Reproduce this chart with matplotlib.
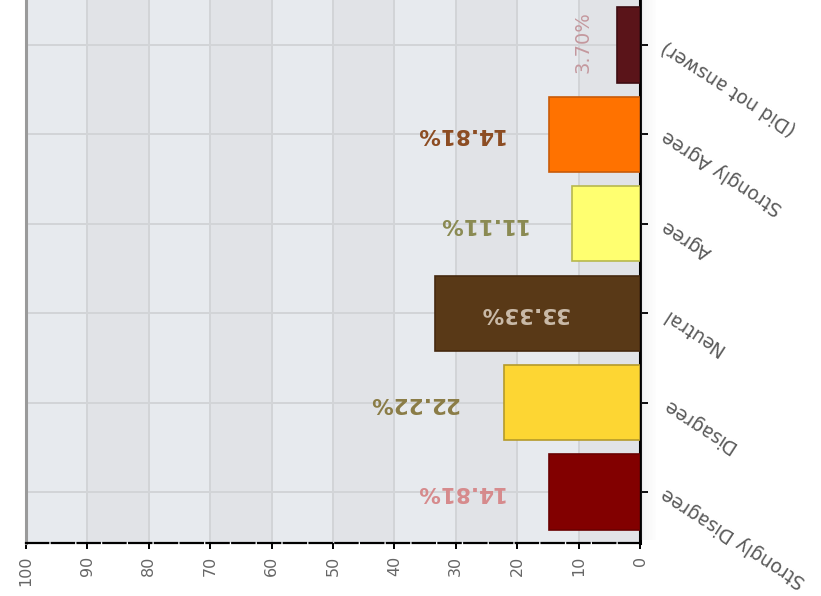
import matplotlib
matplotlib.use("Agg")
import matplotlib.pyplot as plt
import numpy as np
from matplotlib.patches import Rectangle

# Survey responses (percent of respondents)
categories = ["Strongly Disagree", "Disagree", "Neutral", "Agree",
              "Strongly Agree", "(Did not answer)"]
percentages = [14.81, 22.22, 33.33, 11.11, 14.81, 3.70]
bar_colors = ["#820000", "#fdd633", "#593917", "#ffff70", "#ff7200", "#5a1419"]
edge_colors = ["#6a0000", "#b59a2a", "#45290f", "#b8b84e", "#c85a08", "#3e0d12"]
label_colors = ["#d68a8c", "#8a7c46", "#cabba9", "#8a8a52", "#8c4c22", "#c4989e"]
x_ticks = [0, 10, 20, 30, 40, 50, 60, 70, 80, 90, 100]

W, H = 821, 596
fig = plt.figure(figsize=(W / 100, H / 100), dpi=100)
fig.patch.set_facecolor("white")

# axes box in pixels: x 26..640, y (from top) 0..543
left, right, top, bottom = 26, 640, 0, 543
ax = fig.add_axes([left / W, (H - bottom) / H, (right - left) / W, (bottom - top) / H])
ax.set_facecolor("#e7eaee")

ypos = np.arange(len(categories))
ax.set_xlim(100, 0)
ax.set_ylim(-0.57, 5.503)

# alternating column bands
for i, x0 in enumerate(range(0, 100, 10)):
    if i % 2 == 0:
        ax.axvspan(x0, x0 + 10, color="#e1e3e7", zorder=0, lw=0)

ax.set_xticks(x_ticks)
ax.set_yticks(ypos)
ax.grid(True, color="#d2d4d7", lw=1.4, zorder=1)
ax.set_axisbelow(True)

ax.barh(ypos, percentages, height=0.84, color=bar_colors,
        edgecolor=edge_colors, linewidth=1.2, zorder=3)

# value labels (the whole chart is drawn upside down)
for y, v, c in zip(ypos, percentages, label_colors):
    if v < 5:
        ax.annotate(f"{v:.2f}%", xy=(v, y), xytext=(-34, 3),
                    textcoords="offset pixels", rotation=90,
                    ha="center", va="center", color=c, fontsize=14,
                    zorder=4)
    elif v > 30:
        ax.annotate(f"{v:.2f}%", xy=(v, y), xytext=(89, 0),
                    textcoords="offset pixels", rotation=180,
                    ha="center", va="center", color=c, fontsize=15.5,
                    fontweight="bold", zorder=4)
    else:
        ax.annotate(f"{v:.2f}%", xy=(v, y), xytext=(-90, 0),
                    textcoords="offset pixels", rotation=180,
                    ha="center", va="center", color=c, fontsize=15.5,
                    fontweight="bold", zorder=4)

# spines
ax.spines["top"].set_visible(False)
ax.spines["left"].set_color("#9a9a9a")
ax.spines["left"].set_linewidth(2.2)
ax.spines["right"].set_color("black")
ax.spines["right"].set_linewidth(2.2)
ax.spines["bottom"].set_color("black")
ax.spines["bottom"].set_linewidth(1.6)
ax.spines["bottom"].set_linestyle((0, (10, 1.6)))

# category axis on the right
ax.yaxis.tick_right()
ax.tick_params(axis="y", which="major", length=6, width=1.4, color="black",
               pad=11, labelsize=13.5, labelcolor="#5a5a5a")
ax.set_yticklabels(categories)
for lab in ax.get_yticklabels():
    lab.set_rotation(147)
    lab.set_rotation_mode("anchor")
    lab.set_ha("right")
    lab.set_va("center")

# value axis at the bottom
ax.tick_params(axis="x", which="major", length=4, width=1.4, color="black",
               pad=5, labelsize=11.5, labelcolor="#666666")
ax.set_xticklabels([str(t) for t in x_ticks])
for lab in ax.get_xticklabels():
    lab.set_rotation(90)
    lab.set_va("top")
    lab.set_ha("center")

# soft shadow beside the category axis
for k in range(10):
    fig.patches.append(Rectangle(((right + 1 + k * 1.5) / W, (H - 540) / H),
                                 1.5 / W, 540 / H, transform=fig.transFigure,
                                 color="#9aa0a8", alpha=0.12 * (1 - k / 10),
                                 lw=0, zorder=0))

fig.savefig("out.png", dpi=100)
